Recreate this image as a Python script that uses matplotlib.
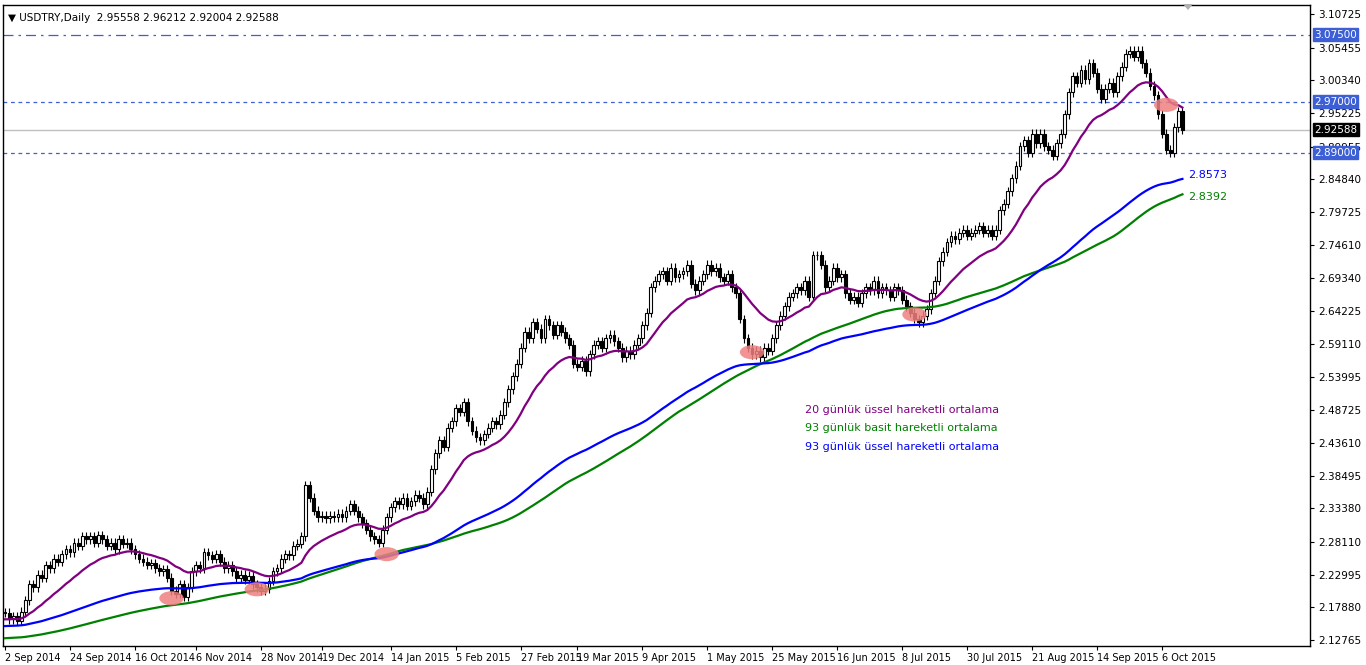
import numpy as np
import matplotlib
matplotlib.use("Agg")
import matplotlib.pyplot as plt
from matplotlib.patches import Ellipse, Polygon

closes = [
2.170,2.160,2.165,2.158,2.172,2.190,2.215,2.210,2.230,2.225,
2.245,2.240,2.255,2.250,2.262,2.270,2.265,2.280,2.275,2.290,
2.285,2.290,2.280,2.292,2.285,2.275,2.280,2.270,2.285,2.278,
2.280,2.270,2.262,2.255,2.250,2.245,2.248,2.240,2.235,2.238,
2.225,2.205,2.200,2.215,2.195,2.210,2.235,2.245,2.240,2.265,
2.260,2.255,2.262,2.250,2.240,2.245,2.235,2.225,2.230,2.222,
2.228,2.215,2.210,2.205,2.208,2.220,2.235,2.240,2.255,2.262,
2.260,2.275,2.278,2.290,2.370,2.350,2.330,2.320,2.322,2.318,
2.322,2.320,2.325,2.320,2.330,2.340,2.330,2.320,2.310,2.300,
2.290,2.285,2.280,2.300,2.320,2.335,2.345,2.340,2.350,2.338,
2.345,2.355,2.350,2.340,2.360,2.395,2.420,2.440,2.430,2.460,
2.470,2.490,2.485,2.500,2.470,2.455,2.445,2.440,2.450,2.460,
2.470,2.465,2.480,2.500,2.520,2.540,2.560,2.585,2.610,2.600,
2.625,2.615,2.600,2.630,2.620,2.605,2.620,2.610,2.600,2.590,
2.560,2.555,2.565,2.548,2.575,2.590,2.595,2.585,2.600,2.605,
2.595,2.585,2.570,2.580,2.575,2.590,2.600,2.620,2.640,2.680,
2.690,2.700,2.705,2.690,2.710,2.695,2.700,2.705,2.715,2.685,
2.675,2.690,2.700,2.715,2.705,2.710,2.695,2.690,2.700,2.680,
2.670,2.630,2.600,2.585,2.575,2.580,2.570,2.585,2.580,2.600,
2.620,2.635,2.650,2.665,2.670,2.680,2.675,2.690,2.665,2.730,
2.730,2.715,2.680,2.690,2.710,2.695,2.700,2.670,2.660,2.665,
2.655,2.670,2.680,2.675,2.690,2.670,2.680,2.675,2.665,2.680,
2.675,2.660,2.650,2.640,2.630,2.625,2.635,2.645,2.670,2.690,
2.720,2.735,2.750,2.760,2.755,2.765,2.770,2.760,2.765,2.770,
2.775,2.765,2.770,2.760,2.770,2.800,2.810,2.830,2.850,2.870,
2.900,2.910,2.890,2.920,2.905,2.920,2.900,2.895,2.885,2.905,
2.920,2.950,2.985,3.010,3.000,3.020,3.005,3.030,3.015,2.990,
2.975,2.990,3.000,2.985,3.010,3.025,3.045,3.050,3.040,3.050,
3.030,3.015,2.995,2.980,2.950,2.920,2.895,2.890,2.930,2.955,2.92588]
last_ohlc = (2.95558, 2.96212, 2.92004, 2.92588)
wick = 0.007
ema20_start, ema93_start, sma93_pre = 2.159, 2.149, 2.13

tick_idx = [0,16,32,47,63,78,95,111,127,141,157,173,189,205,221,237,253,269,285]
tick_lbl = ["2 Sep 2014","24 Sep 2014","16 Oct 2014","6 Nov 2014","28 Nov 2014","19 Dec 2014",
            "14 Jan 2015","5 Feb 2015","27 Feb 2015","19 Mar 2015","9 Apr 2015","1 May 2015",
            "25 May 2015","16 Jun 2015","8 Jul 2015","30 Jul 2015","21 Aug 2015","14 Sep 2015","6 Oct 2015"]
yticks = [3.10725,3.05455,3.00340,2.95225,2.89955,2.84840,2.79725,2.74610,2.69340,2.64225,
          2.59110,2.53995,2.48725,2.43610,2.38495,2.33380,2.28110,2.22995,2.17880,2.12765]
levels_dashed = [2.97, 2.89]
level_dashdot = 3.075
marks = [(41,2.193),(62,2.207),(94,2.262),(184,2.578),(224,2.637),(286,2.965)]

c = np.array(closes)
n = len(c)
o = np.concatenate([[c[0]], c[:-1]])
o[-1] = last_ohlc[0]
h = np.maximum(o, c) + wick
l = np.minimum(o, c) - wick
h[-1], l[-1] = last_ohlc[1], last_ohlc[2]

def ema(x, p, s):
    a = 2/(p+1); out = []; v = s
    for xi in x:
        v = v + a*(xi-v); out.append(v)
    return np.array(out)
e20 = ema(c, 20, ema20_start)
e93 = ema(c, 93, ema93_start)
ext = np.concatenate([np.full(92, sma93_pre), c])
s93 = np.array([ext[i:i+93].mean() for i in range(n)])

W, H = 1366, 665
fig = plt.figure(figsize=(W/100, H/100), dpi=100)
ax = fig.add_axes([3/W, (H-646)/H, (1310-3)/W, (646-5)/H])
ppb = 4.06
ax.set_xlim(-0.5, -0.5 + 1307/ppb)
ax.set_ylim(2.12765 - 6*0.001565, 3.10725 + 9*0.001565)

x = np.arange(n)
ax.vlines(x, l, h, color='black', lw=0.8, zorder=3)
up = c >= o
bot = np.minimum(o, c); ht = np.maximum(np.abs(c-o), 0.0008)
ax.bar(x[up], ht[up], bottom=bot[up], width=0.7, facecolor='white', edgecolor='black', lw=0.8, zorder=4)
ax.bar(x[~up], ht[~up], bottom=bot[~up], width=0.7, facecolor='black', edgecolor='black', lw=0.8, zorder=4)

ax.plot(x, e20, color='#800080', lw=1.6, zorder=5)
ax.plot(x, s93, color='#008000', lw=1.6, zorder=5)
ax.plot(x, e93, color='#0000ff', lw=1.6, zorder=5)

for lv in levels_dashed:
    ax.axhline(lv, color='#3c5fd6', lw=0.9, ls=(0,(3,3)), zorder=2)
ax.axhline(level_dashdot, color='#3c5fd6', lw=0.9, ls=(0,(8,4,2,4)), zorder=2)
ax.axhline(c[-1], color='#c0c0c0', lw=1, zorder=2)

for (mi, mp) in marks:
    ax.add_patch(Ellipse((mi, mp), 6.0, 0.022, facecolor='#f08080', alpha=0.85, edgecolor='none', zorder=6))

ax.text(n+0.5, e93[-1]+0.006, "2.8573", color='#0000ff', fontsize=8, va='center', zorder=7)
ax.text(n+0.5, s93[-1]-0.004, "2.8392", color='#008000', fontsize=8, va='center', zorder=7)

ax.text(197, 2.4875, "20 günlük üssel hareketli ortalama", color='#800080', fontsize=8, va='center')
ax.text(197, 2.459, "93 günlük basit hareketli ortalama", color='#008000', fontsize=8, va='center')
ax.text(197, 2.430, "93 günlük üssel hareketli ortalama", color='#0000ff', fontsize=8, va='center')

ax.text(0.004, 0.988, "▼ USDTRY,Daily  2.95558 2.96212 2.92004 2.92588", transform=ax.transAxes,
        fontsize=7.5, va='top', ha='left')

ax.yaxis.tick_right()
ax.set_yticks(yticks)
ax.set_yticklabels([f"{v:.5f}" for v in yticks], fontsize=7.5)
ax.tick_params(axis='y', direction='out', length=3, pad=3)
ax.set_xticks(tick_idx)
ax.set_xticklabels(tick_lbl, fontsize=7, ha='left')
ax.tick_params(axis='x', direction='out', length=3, pad=2)
for sp in ax.spines.values():
    sp.set_linewidth(1); sp.set_color('black')

def box(val, fc, txt):
    ax.annotate(txt, xy=(1.0, val), xycoords=('axes fraction', 'data'), xytext=(3, 0),
                textcoords='offset points', fontsize=7.5, color='white', va='center', ha='left',
                bbox=dict(boxstyle='square,pad=0.15', fc=fc, ec=fc), zorder=10, annotation_clip=False)
box(3.075, '#3c5fd6', "3.07500")
box(2.97, '#3c5fd6', "2.97000")
box(2.89, '#3c5fd6', "2.89000")
box(c[-1], 'black', "2.92588")

fig.patches.append(Polygon([[1183/W, 1-4/H], [1193/W, 1-4/H], [1188/W, 1-10/H]], closed=True,
                           transform=fig.transFigure, facecolor='#b0b0b0', edgecolor='none', figure=fig))
fig.savefig("out.png", dpi=100)
